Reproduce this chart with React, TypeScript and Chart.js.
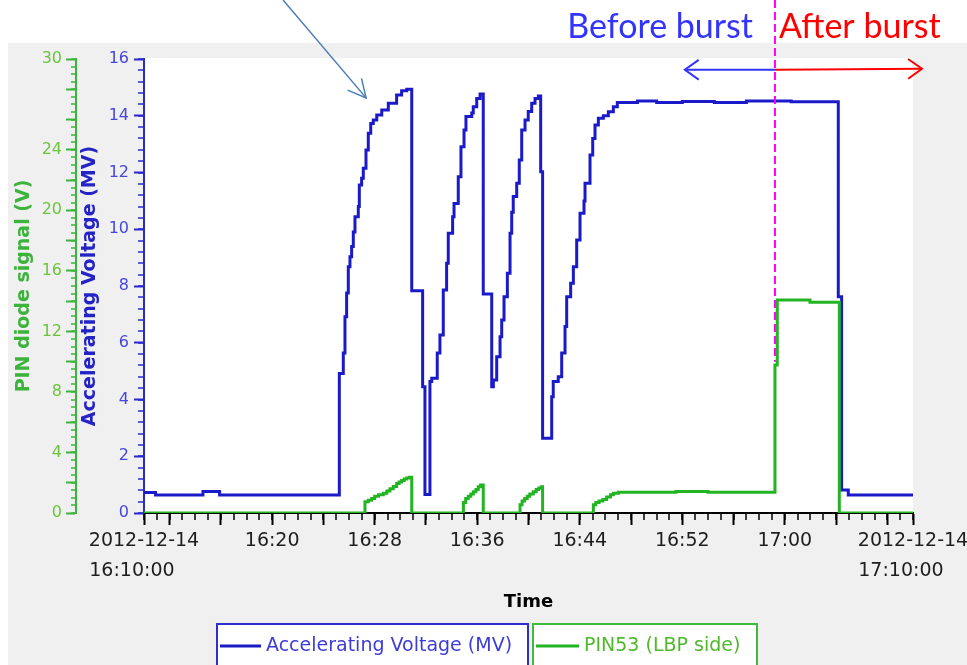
import React, { useEffect, useRef } from 'react';
import { Chart, registerables } from 'chart.js';

Chart.register(...registerables);

// Time is in minutes after 2012-12-14 16:10:00
const voltageTimes = [
  0, 0.9, 4.6, 5.9, 15.24, 15.55, 15.68, 15.81, 15.94, 16.07, 16.2, 16.33, 16.46, 16.72, 16.8, 16.98,
  17.11, 17.32, 17.5, 17.69, 17.89, 18.16, 18.55, 19.06, 19.71, 20.1, 20.5, 20.89, 21.74, 21.92,
  22.31, 22.45, 22.88, 23.09, 23.35, 23.61, 23.74, 24.08, 24.19, 24.52, 24.73, 24.97, 25.12, 25.57,
  25.69, 25.96, 26.22, 26.47, 27.13, 27.26, 27.52, 27.78, 27.91, 28.09, 28.35, 28.56, 28.69, 28.81,
  29.08, 29.28, 29.47, 29.73, 29.98, 30.25, 30.51, 30.77, 30.95, 31.1, 31.81, 31.93, 32.32, 32.59,
  32.85, 32.98, 33.29, 33.5, 33.76, 34.02, 34.33, 34.41, 34.8, 35.01, 35.19, 35.45, 35.84, 36.23,
  36.62, 36.93, 38.5, 40.0, 42.0, 44.5, 47.0, 50.5, 54.17, 54.43, 54.95, 60,
];
const voltageValues = [
  0.72, 0.63, 0.76, 0.63, 4.92, 5.64, 6.92, 7.75, 8.68, 9.03, 9.39, 9.9, 10.44, 10.8, 11.56, 11.8,
  12.15, 12.79, 13.38, 13.73, 13.85, 14.03, 14.2, 14.44, 14.73, 14.88, 14.93, 7.83, 4.45, 0.65,
  4.63, 4.75, 5.64, 6.27, 7.86, 8.8, 9.86, 10.44, 10.91, 11.85, 12.91, 13.5, 13.97, 14.1,
  14.32, 14.61, 14.77, 7.72, 4.45, 4.69, 5.51, 6.21, 6.8, 7.62, 8.45, 9.86, 10.6, 11.15,
  11.62, 12.44, 13.5, 13.85, 14.15, 14.44, 14.61, 14.7, 12.03, 2.63, 4.1, 4.63, 4.8, 5.64,
  6.57, 7.62, 8.1, 8.68, 9.62, 10.56, 11.0, 11.62, 12.62, 13.2, 13.67, 13.91, 14.0, 14.14,
  14.32, 14.47, 14.52, 14.47, 14.5, 14.47, 14.52, 14.49, 7.62, 0.81, 0.63, 0.63,
];

const pinTimes = [
  0, 17.24, 17.5, 17.76, 18.0, 18.3, 18.67, 18.95, 19.19, 19.45, 19.71, 19.9, 20.1, 20.3, 20.5, 20.7,
  20.89, 24.92, 25.1, 25.3, 25.5, 25.7, 25.9, 26.08, 26.25, 26.47, 29.34, 29.5, 29.7, 29.9, 30.1,
  30.37, 30.6, 30.8, 31.0, 31.1, 35.06, 35.25, 35.5, 35.8, 36.1, 36.4, 36.62, 37.01, 41.5, 44.0,
  49.23, 49.41, 51.96, 54.25, 60,
];
const pinValues = [
  0, 0.75, 0.85, 0.95, 1.1, 1.2, 1.3, 1.45, 1.6, 1.75, 1.95, 2.05, 2.15, 2.25, 2.32, 2.36,
  0, 0.7, 0.95, 1.1, 1.25, 1.4, 1.55, 1.74, 1.85, 0, 0.55, 0.8, 0.95, 1.1, 1.25,
  1.4, 1.55, 1.65, 1.74, 0, 0.55, 0.7, 0.8, 0.9, 1.05, 1.2, 1.3, 1.37, 1.42, 1.37,
  9.78, 14.08, 13.92, 0, 0,
];

const xMajorTicks = [0, 2, 6, 10, 14, 18, 22, 26, 30, 34, 38, 42, 46, 50, 54, 58, 60];
const xLabelValues = [0, 10, 18, 26, 34, 42, 50, 60];
const xLabels: (string | string[])[] = [
  ['2012-12-14', '16:10:00    '],
  '16:20', '16:28', '16:36', '16:44', '16:52', '17:00',
  ['2012-12-14', '17:10:00    '],
];
const mvTicks = [0, 2, 4, 6, 8, 10, 12, 14, 16];
const pinTicks = [0, 2, 4, 6, 8, 10, 12, 14, 16, 18, 20, 22, 24, 26, 28, 30];
const pinLabelled = [0, 4, 8, 12, 16, 20, 24, 30];

const burstTime = 49.23;
const beforeArrowEnd = 42.2;
const afterArrowEnd = 60.7;
const rangeArrowLevelMV = 15.62;
const pointerTail = 10.85;
const pointerTip = { t: 17.33, mv: 14.63 };

const BLUE = '#1a1ac8';
const GREEN = '#22b422';
const FONT = "'DejaVu Sans', sans-serif";

const backgroundPlugin = {
  id: 'bgPanels',
  beforeDraw(chart: any) {
    const { ctx, chartArea: a } = chart;
    ctx.save();
    ctx.fillStyle = '#ffffff';
    ctx.fillRect(0, 0, chart.width, chart.height);
    ctx.fillStyle = '#f0f0f0';
    ctx.fillRect(8, 43, chart.width - 8, chart.height - 43);
    ctx.fillStyle = '#ffffff';
    ctx.fillRect(a.left, a.top - 1, a.right - a.left, a.bottom - a.top + 1);
    ctx.restore();
  },
};

const minorTickPlugin = {
  id: 'minorTicks',
  beforeDatasetsDraw(chart: any) {
    const { ctx } = chart;
    const xs = chart.scales.x;
    const mv = chart.scales.yMV;
    const pv = chart.scales.yV;
    ctx.save();
    ctx.lineWidth = 1.5;
    ctx.strokeStyle = '#000';
    ctx.beginPath();
    for (let m = 0; m <= 60; m++) {
      const px = Math.round(xs.getPixelForValue(m));
      ctx.moveTo(px, xs.top);
      ctx.lineTo(px, xs.top + 7);
    }
    ctx.stroke();
    ctx.strokeStyle = '#2a2ad0';
    ctx.beginPath();
    for (let k = 0; k <= 40; k++) {
      const py = Math.round(mv.getPixelForValue(k * 0.4));
      ctx.moveTo(mv.right - 6, py);
      ctx.lineTo(mv.right, py);
    }
    ctx.stroke();
    ctx.strokeStyle = '#3cb43c';
    ctx.beginPath();
    for (let k = 0; k <= 60; k++) {
      const py = Math.round(pv.getPixelForValue(k * 0.5));
      ctx.moveTo(pv.right - 5, py);
      ctx.lineTo(pv.right, py);
    }
    ctx.stroke();
    ctx.restore();
  },
};

function chevron(ctx: any, tipX: number, tipY: number, fromX: number, fromY: number, len: number, ang: number) {
  const a = Math.atan2(fromY - tipY, fromX - tipX);
  ctx.beginPath();
  ctx.moveTo(tipX + len * Math.cos(a + ang), tipY + len * Math.sin(a + ang));
  ctx.lineTo(tipX, tipY);
  ctx.lineTo(tipX + len * Math.cos(a - ang), tipY + len * Math.sin(a - ang));
  ctx.stroke();
}

const annotationPlugin = {
  id: 'burstNotes',
  afterDraw(chart: any) {
    const { ctx } = chart;
    const xs = chart.scales.x;
    const mv = chart.scales.yMV;
    const pv = chart.scales.yV;
    const bx = xs.getPixelForValue(burstTime);
    ctx.save();
    ctx.strokeStyle = '#ff00ff';
    ctx.lineWidth = 2;
    ctx.setLineDash([8, 4]);
    ctx.beginPath();
    ctx.moveTo(bx, 0);
    ctx.lineTo(bx, pv.getPixelForValue(10));
    ctx.stroke();
    ctx.setLineDash([]);
    const ay = mv.getPixelForValue(rangeArrowLevelMV);
    const bEnd = xs.getPixelForValue(beforeArrowEnd);
    ctx.strokeStyle = '#3333ff';
    ctx.lineWidth = 2;
    ctx.beginPath();
    ctx.moveTo(bx, ay);
    ctx.lineTo(bEnd, ay);
    ctx.stroke();
    chevron(ctx, bEnd, ay, bx, ay, 17, 0.62);
    const aEnd = xs.getPixelForValue(afterArrowEnd);
    ctx.strokeStyle = '#ff0000';
    ctx.beginPath();
    ctx.moveTo(bx, ay);
    ctx.lineTo(aEnd, ay - 1);
    ctx.stroke();
    chevron(ctx, aEnd, ay - 1, bx, ay, 17, 0.62);
    ctx.font = "34px Lato, 'Open Sans', sans-serif";
    ctx.textBaseline = 'alphabetic';
    ctx.fillStyle = '#3333ff';
    ctx.textAlign = 'right';
    ctx.fillText('Before burst', bx - 22, 38);
    ctx.fillStyle = '#ff0000';
    ctx.textAlign = 'left';
    ctx.fillText('After burst', bx + 4, 38);
    const tx = xs.getPixelForValue(pointerTip.t);
    const ty = mv.getPixelForValue(pointerTip.mv);
    const sx = xs.getPixelForValue(pointerTail);
    ctx.strokeStyle = '#4a7ebb';
    ctx.lineWidth = 1.5;
    ctx.beginPath();
    ctx.moveTo(sx, 0);
    ctx.lineTo(tx, ty);
    ctx.stroke();
    chevron(ctx, tx, ty, sx, 0, 20, 0.47);
    ctx.restore();
  },
};

const legendBoxPlugin = {
  id: 'legendBoxes',
  afterDraw(chart: any) {
    const { ctx } = chart;
    const boxes = [
      { x: 217, w: 311, lineW: 41, textColor: '#3c3cd8', borderColor: '#2f2fd0' },
      { x: 533, w: 224, lineW: 43, textColor: '#4fb82c', borderColor: '#3cbb3c' },
    ];
    const top = 624;
    const cy = 646;
    ctx.save();
    chart.data.datasets.forEach((ds: any, i: number) => {
      const b = boxes[i];
      ctx.fillStyle = '#ffffff';
      ctx.fillRect(b.x, top, b.w, chart.height - top + 5);
      ctx.strokeStyle = b.borderColor;
      ctx.lineWidth = 2;
      ctx.strokeRect(b.x, top, b.w, chart.height - top + 5);
      ctx.strokeStyle = ds.borderColor;
      ctx.lineWidth = 3;
      ctx.beginPath();
      ctx.moveTo(b.x + 3, cy);
      ctx.lineTo(b.x + 3 + b.lineW, cy);
      ctx.stroke();
      ctx.fillStyle = b.textColor;
      ctx.font = `19px ${FONT}`;
      ctx.textAlign = 'left';
      ctx.textBaseline = 'middle';
      ctx.fillText(ds.label, b.x + 3 + b.lineW + 5, cy);
    });
    ctx.restore();
  },
};

export default function App() {
  const ref = useRef<HTMLCanvasElement | null>(null);
  useEffect(() => {
    if (!ref.current) return;
    const chart = new Chart(ref.current, {
      type: 'line',
      data: {
        datasets: [
          {
            label: 'Accelerating Voltage (MV)',
            data: voltageTimes.map((t, i) => ({ x: t, y: voltageValues[i] })),
            yAxisID: 'yMV',
            borderColor: BLUE,
            borderWidth: 3,
            stepped: true,
            pointRadius: 0,
            order: 1,
          },
          {
            label: 'PIN53 (LBP side)',
            data: pinTimes.map((t, i) => ({ x: t, y: pinValues[i] })),
            yAxisID: 'yV',
            borderColor: GREEN,
            borderWidth: 3,
            stepped: true,
            pointRadius: 0,
            order: 0,
          },
        ],
      },
      options: {
        responsive: false,
        animation: false,
        layout: { padding: { left: 8, top: 59, right: 54, bottom: 0 }, autoPadding: false },
        plugins: { legend: { display: false }, tooltip: { enabled: false } },
        scales: {
          x: {
            type: 'linear',
            position: 'bottom',
            min: 0,
            max: 60,
            afterBuildTicks: (s: any) => {
              s.ticks = xMajorTicks.map((v) => ({ value: v }));
            },
            afterFit: (s: any) => {
              s.height = 152;
              s.paddingLeft = 0;
              s.paddingRight = 0;
            },
            grid: { drawOnChartArea: false, drawTicks: true, tickLength: 12, tickWidth: 2, tickColor: '#000' },
            border: { color: '#000', width: 2 },
            ticks: {
              autoSkip: false,
              maxRotation: 0,
              minRotation: 0,
              padding: 1,
              color: '#1e1e1e',
              font: { family: FONT, size: 19, lineHeight: 1.58 },
              callback: (v: any) => {
                const i = xLabelValues.indexOf(Number(v));
                return i >= 0 ? xLabels[i] : '';
              },
            },
            title: {
              display: true,
              text: 'Time',
              color: '#000',
              font: { family: FONT, size: 18, weight: 'bold' },
              padding: { top: 0, bottom: 52 },
            },
          },
          yMV: {
            type: 'linear',
            position: 'left',
            weight: 0,
            min: 0,
            max: 16,
            afterBuildTicks: (s: any) => {
              s.ticks = mvTicks.map((v) => ({ value: v }));
            },
            afterFit: (s: any) => {
              s.width = 68;
              s.paddingTop = 0;
              s.paddingBottom = 0;
            },
            grid: { drawOnChartArea: false, tickLength: 10, tickWidth: 2, tickColor: '#2a2ad0' },
            border: { color: '#2a2ad0', width: 2 },
            ticks: { padding: 5, color: '#4646dc', font: { family: FONT, size: 16 } },
            title: {
              display: true,
              text: 'Accelerating Voltage (MV)',
              color: '#2323c8',
              font: { family: FONT, size: 19, weight: 'bold' },
              padding: { top: 3, bottom: 0 },
            },
          },
          yV: {
            type: 'linear',
            position: 'left',
            weight: 1,
            min: 0,
            max: 30,
            afterBuildTicks: (s: any) => {
              s.ticks = pinTicks.map((v) => ({ value: v }));
            },
            afterFit: (s: any) => {
              s.width = 68;
              s.paddingTop = 0;
              s.paddingBottom = 0;
            },
            grid: { drawOnChartArea: false, tickLength: 10, tickWidth: 2, tickColor: '#3cb43c' },
            border: { color: '#3cb43c', width: 2 },
            ticks: {
              padding: 4,
              color: '#6cc43c',
              font: { family: FONT, size: 16 },
              callback: (v: any) => (pinLabelled.includes(Number(v)) ? String(v) : ''),
            },
            title: {
              display: true,
              text: 'PIN diode signal (V)',
              color: '#3cb43c',
              font: { family: FONT, size: 19, weight: 'bold' },
              padding: { top: 5, bottom: 0 },
            },
          },
        },
      } as any,
      plugins: [backgroundPlugin, minorTickPlugin, annotationPlugin, legendBoxPlugin],
    });
    return () => chart.destroy();
  }, []);

  return (
    <div style={{ position: 'absolute', left: 0, top: 0, width: 967, height: 665, overflow: 'hidden' }}>
      <canvas ref={ref} width={967} height={665} style={{ display: 'block' }} />
    </div>
  );
}
